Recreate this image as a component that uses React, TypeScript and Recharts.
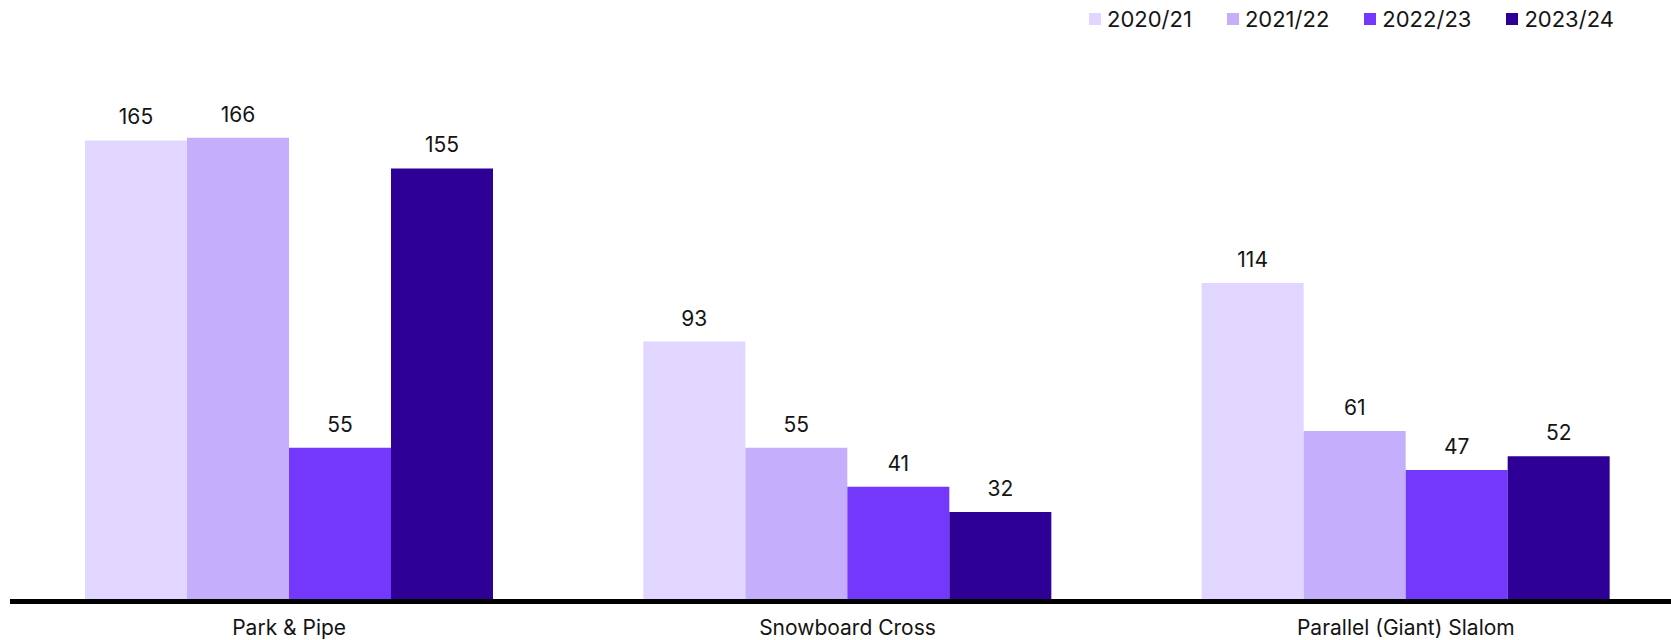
import React from 'react';
import { BarChart, Bar, XAxis, YAxis, LabelList, Legend } from 'recharts';

const categories = ['Park & Pipe', 'Snowboard Cross', 'Parallel (Giant) Slalom'];
const seasons = ['2020/21', '2021/22', '2022/23', '2023/24'];
const values2020 = [165, 93, 114];
const values2021 = [166, 55, 61];
const values2022 = [55, 41, 47];
const values2023 = [155, 32, 52];
const colors = ['#E1D6FF', '#C5AFFC', '#7338FC', '#2E0096'];

const seriesValues = [values2020, values2021, values2022, values2023];
const keys = ['s2020', 's2021', 's2022', 's2023'];

const data = categories.map((name, i) => {
  const row: Record<string, string | number> = { name };
  keys.forEach((k, j) => {
    row[k] = seriesValues[j][i];
  });
  return row;
});

const maxValue = Math.max(...seriesValues.flat());
const FONT = 'Inter, "Noto Sans", sans-serif';
const TEXT = '#141414';

function renderLegend() {
  return (
    <div style={{ display: 'flex', alignItems: 'center', fontFamily: FONT, fontSize: 22, color: TEXT }}>
      {seasons.map((s, i) => (
        <div key={s} style={{ display: 'flex', alignItems: 'center', marginRight: 35 }}>
          <span style={{ width: 12, height: 12, background: colors[i], display: 'inline-block', marginRight: 6 }} />
          <span style={{ lineHeight: '24px' }}>{s}</span>
        </div>
      ))}
    </div>
  );
}

export default function App() {
  return (
    <div style={{ width: 1671, height: 640, overflow: 'hidden', position: 'relative', background: '#fff' }}>
      <style>{'body{margin:0}'}</style>
      <BarChart
        width={1685}
        height={640}
        data={data}
        margin={{ top: 137.7, right: 0, left: 10, bottom: 0 }}
        barSize={102}
        barGap={0}
      >
        <XAxis
          dataKey="name"
          height={38.6}
          axisLine={{ stroke: '#000', strokeWidth: 5 }}
          tickLine={false}
          tickSize={0}
          tickMargin={19}
          interval={0}
          tick={{ fill: TEXT, fontSize: 21, fontFamily: FONT }}
        />
        <YAxis hide domain={[0, maxValue]} />
        <Legend
          content={renderLegend}
          layout="horizontal"
          verticalAlign="middle"
          align="center"
          wrapperStyle={{ top: 7, left: 1089, width: 580, height: 24 }}
        />
        {keys.map((k, i) => (
          <Bar key={k} dataKey={k} name={seasons[i]} fill={colors[i]} isAnimationActive={false}>
            <LabelList
              dataKey={k}
              position="top"
              offset={16}
              fill={TEXT}
              fontSize={21}
              fontFamily={FONT}
            />
          </Bar>
        ))}
      </BarChart>
    </div>
  );
}
